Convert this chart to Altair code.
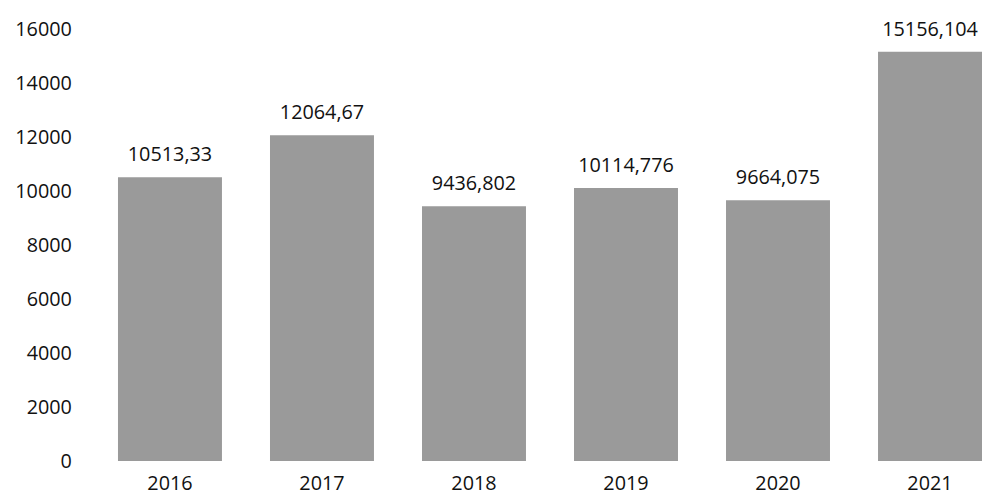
import altair as alt
import pandas as pd

years = ["2016", "2017", "2018", "2019", "2020", "2021"]
values = [10513.33, 12064.67, 9436.802, 10114.776, 9664.075, 15156.104]
labels = ["10513,33", "12064,67", "9436,802", "10114,776", "9664,075", "15156,104"]
y_ticks = [0, 2000, 4000, 6000, 8000, 10000, 12000, 14000, 16000]

df = pd.DataFrame({"year": years, "value": values, "label": labels})

FONT = "Open Sans"

x = alt.X("year:N", sort=years, title=None,
          scale=alt.Scale(paddingInner=0.316, paddingOuter=0),
          axis=alt.Axis(labelAngle=0, domain=False, ticks=False, labelPadding=13,
                        labelFontSize=20, labelFont=FONT, labelColor="#111111"))
y = alt.Y("value:Q", title=None,
          scale=alt.Scale(domain=[0, 16000], nice=False),
          axis=alt.Axis(values=y_ticks, format="d", grid=False, domain=False, ticks=False,
                        labelPadding=47, labelFontSize=20, labelFont=FONT,
                        labelColor="#111111", minExtent=107, maxExtent=107))

bars = alt.Chart(df).mark_bar(color="#9a9a9a").encode(x=x, y=y)
text = alt.Chart(df).mark_text(baseline="bottom", dy=-12, fontSize=20, font=FONT,
                               color="#111111").encode(x=x, y=y, text="label:N")

chart = (bars + text).properties(
    width=872, height=436,
    padding={"left": 4, "top": 9, "right": 0, "bottom": 0},
).configure_view(stroke=None)

chart.save("out.html", embed_options={"renderer": "svg", "actions": False})
